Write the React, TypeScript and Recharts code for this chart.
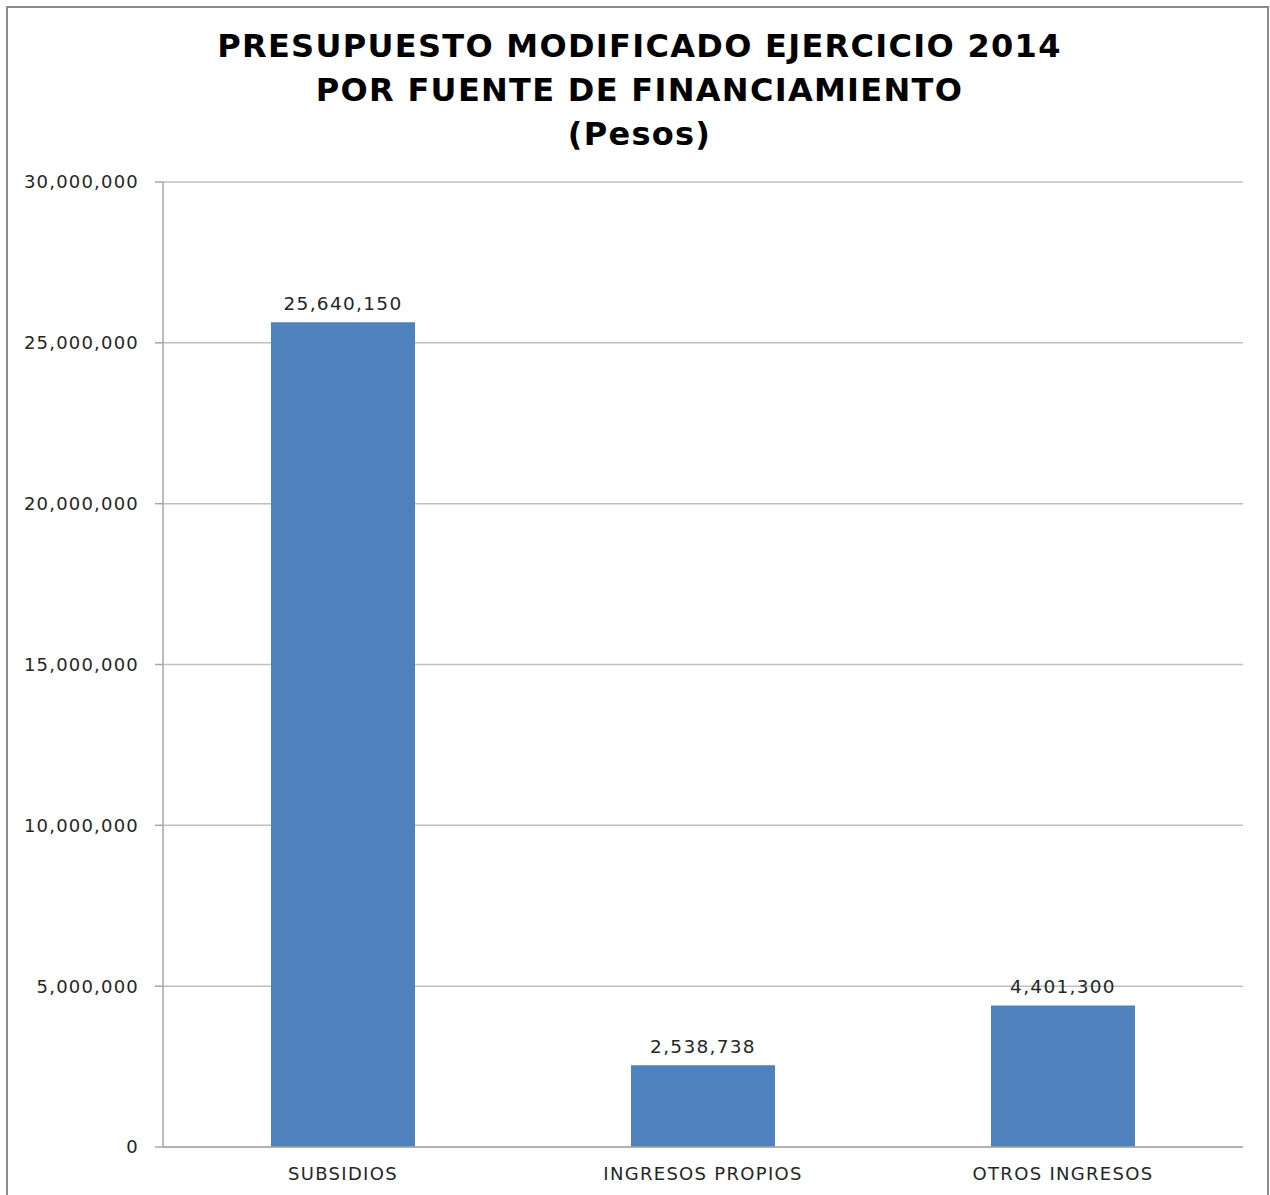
import React from "react";
import { BarChart, Bar, XAxis, YAxis, CartesianGrid, LabelList } from "recharts";

const categories = ["SUBSIDIOS", "INGRESOS PROPIOS", "OTROS INGRESOS"];
const values = [25640150, 2538738, 4401300];
const yTicks = [0, 5000000, 10000000, 15000000, 20000000, 25000000, 30000000];
const boundaryTicks = [0, 1, 2, 3];
const titleLines = ["PRESUPUESTO MODIFICADO EJERCICIO 2014", "POR FUENTE DE FINANCIAMIENTO", "(Pesos)"];

const data = categories.map((c, i) => ({ name: c, value: values[i] }));
const fmt = (v: number) => v.toLocaleString("en-US");

const FONT = "'DejaVu Sans', sans-serif";

export default function App() {
  return (
    <div style={{ position: "absolute", left: 0, top: 0, width: 1270, height: 1195, background: "#fff", overflow: "hidden" }}>
      <div style={{ position: "absolute", left: 6, top: 6, width: 1259, height: 1250, border: "2px solid #8c8c8c" }} />
      <div style={{ position: "absolute", left: 0, top: 24, width: 1279, textAlign: "center", fontFamily: FONT, fontWeight: 700, fontSize: 32, lineHeight: "44px", letterSpacing: 1.3, color: "#000" }}>
        {titleLines.map((t) => (
          <div key={t}>{t}</div>
        ))}
      </div>
      <div style={{ position: "absolute", left: 0, top: 0 }}>
        <BarChart width={1270} height={1195} data={data} margin={{ top: 182, right: 27, bottom: 0, left: 0 }} barCategoryGap="30%">
          <CartesianGrid vertical={false} stroke="#c0c0c0" strokeWidth={1.5} />
          <XAxis
            xAxisId="a"
            type="number"
            domain={[0, 3]}
            ticks={boundaryTicks}
            height={1}
            tick={false}
            tickSize={8}
            stroke="#a6a6a6"
            strokeWidth={1.5}
            allowDataOverflow
          />
          <XAxis
            xAxisId="b"
            dataKey="name"
            height={47}
            axisLine={false}
            tickLine={false}
            tickSize={0}
            tickMargin={19}
            tick={{ fill: "#262626", fontSize: 18, fontFamily: FONT, letterSpacing: 1.3 }}
            interval={0}
          />
          <YAxis
            width={163}
            domain={[0, 30000000]}
            ticks={yTicks}
            tickFormatter={fmt}
            stroke="#a6a6a6"
            strokeWidth={1.5}
            tickSize={8}
            tickMargin={16}
            tick={{ fill: "#262626", fontSize: 18, fontFamily: FONT, letterSpacing: 1.2 }}
          />
          <Bar xAxisId="b" dataKey="value" fill="#4F81BD" isAnimationActive={false}>
            <LabelList dataKey="value" position="top" offset={12} formatter={(v: any) => fmt(Number(v))} style={{ fill: "#262626", fontSize: 18.5, fontFamily: FONT, letterSpacing: 1.3 }} />
          </Bar>
        </BarChart>
      </div>
    </div>
  );
}
